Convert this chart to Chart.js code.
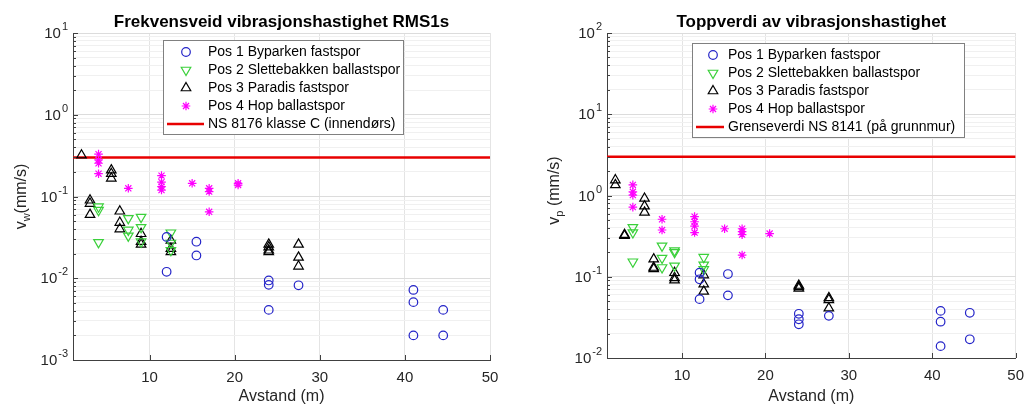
<!DOCTYPE html>
<html>
<head>
<meta charset="utf-8">
<script src="https://cdn.jsdelivr.net/npm/chart.js@4.4.1/dist/chart.umd.min.js"></script>
<style>
  html, body { margin: 0; padding: 0; background: #fff; }
  #wrap { position: relative; width: 1033px; height: 406px; }
  canvas { position: absolute; top: 0; }
  #left { left: 0; }
  #right { left: 516px; }
</style>
</head>
<body>
<div id="wrap">
  <canvas id="left" width="516" height="406"></canvas>
  <canvas id="right" width="517" height="406"></canvas>
</div>
<script>
// --- Data: frekvensveid RMS1s (left) ---
const rmsPos1X = [12, 12, 15.5, 15.5, 24, 24, 24, 27.5, 41, 41, 41, 44.5, 44.5];
const rmsPos1Y = [0.032, 0.012, 0.028, 0.019, 0.0094, 0.0083, 0.0041, 0.0082, 0.0072, 0.0051, 0.002, 0.0041, 0.002];
const rmsPos2X = [4, 4, 4, 7.5, 7.5, 7.5, 9, 9, 9, 12.5, 12.5, 12.5];
const rmsPos2Y = [0.075, 0.068, 0.0275, 0.054, 0.039, 0.033, 0.056, 0.042, 0.028, 0.036, 0.027, 0.022];
const rmsPos3X = [2, 3, 3, 3, 5.5, 5.5, 5.5, 6.5, 6.5, 6.5, 9, 9, 9, 12.5, 12.5, 12.5, 24, 24, 24, 24, 27.5, 27.5, 27.5];
const rmsPos3Y = [0.32, 0.09, 0.082, 0.06, 0.21, 0.19, 0.167, 0.066, 0.048, 0.04, 0.035, 0.028, 0.026, 0.029, 0.023, 0.021, 0.026, 0.024, 0.022, 0.021, 0.026, 0.018, 0.014];
const rmsPos4X = [4, 4, 4, 4, 7.5, 11.4, 11.4, 11.4, 11.4, 15, 17, 17, 17, 20.4, 20.4];
const rmsPos4Y = [0.33, 0.28, 0.255, 0.19, 0.126, 0.18, 0.15, 0.132, 0.12, 0.145, 0.126, 0.115, 0.065, 0.145, 0.138];
const rmsLimit = 0.3;

// --- Data: toppverdi (right) ---
const peakPos1X = [12.1, 12.1, 12.1, 15.5, 15.5, 24, 24, 24, 27.6, 41, 41, 41, 44.5, 44.5];
const peakPos1Y = [0.112, 0.093, 0.053, 0.108, 0.059, 0.035, 0.03, 0.026, 0.033, 0.038, 0.028, 0.014, 0.036, 0.017];
const peakPos2X = [4.1, 4.1, 4.1, 7.6, 7.6, 7.6, 9.1, 9.1, 9.1, 12.6, 12.6, 12.6];
const peakPos2Y = [0.405, 0.35, 0.153, 0.24, 0.17, 0.13, 0.21, 0.2, 0.136, 0.174, 0.14, 0.123];
const peakPos3X = [2, 2, 3.1, 3.1, 5.5, 5.5, 5.5, 6.6, 6.6, 6.6, 9.1, 9.1, 9.1, 12.6, 12.6, 12.6, 24, 24, 24, 27.6, 27.6, 27.6];
const peakPos3Y = [1.55, 1.35, 0.33, 0.32, 0.92, 0.74, 0.62, 0.165, 0.13, 0.125, 0.112, 0.097, 0.091, 0.105, 0.081, 0.066, 0.078, 0.075, 0.072, 0.055, 0.052, 0.041];
const peakPos4X = [4.1, 4.1, 4.1, 4.1, 7.6, 7.6, 11.5, 11.5, 11.5, 11.5, 15.1, 17.2, 17.2, 17.2, 17.2, 20.5];
const peakPos4Y = [1.35, 1.11, 1.01, 0.72, 0.51, 0.376, 0.55, 0.475, 0.42, 0.35, 0.39, 0.39, 0.36, 0.33, 0.185, 0.34];
const peakLimit = 3;

// --- Axes / labels ---
const xMin = 1;
const xMax = 50;
const xTicks = [10, 20, 30, 40, 50];
const seriesLabels = ['Pos 1 Byparken fastspor', 'Pos 2 Slettebakken ballastspor', 'Pos 3 Paradis fastspor', 'Pos 4 Hop ballastspor'];

const FONT = '"Liberation Sans", Arial, sans-serif';
Chart.defaults.font.family = FONT;

const seriesStyles = [
  { color: '#2424c8', pointStyle: 'circle', radius: 4.3, rotation: 0 },
  { color: '#3ad03a', pointStyle: 'triangle', radius: 5.5, rotation: 180 },
  { color: '#000000', pointStyle: 'triangle', radius: 5.5, rotation: 0 },
  { color: '#ff00ff', pointStyle: 'star', radius: 4.3, rotation: 0 },
];

function toPoints(xs, ys) {
  return xs.map((x, i) => ({ x, y: ys[i] }));
}

function isDecade(v) {
  const l = Math.log10(v);
  return Math.abs(l - Math.round(l)) < 1e-9;
}

function markerPoint(ctx, st, x, y) {
  ctx.strokeStyle = st.color;
  ctx.fillStyle = 'rgba(0,0,0,0)';
  ctx.lineWidth = 1.2;
  Chart.helpers.drawPoint(ctx, { pointStyle: st.pointStyle, rotation: st.rotation, radius: st.radius, borderWidth: 1.2 }, x, y);
}

// draws titles, log tick labels, inward ticks and the boxed legend
const decor = {
  id: 'decor',
  afterDraw(chart, args, o) {
    const ctx = chart.ctx;
    const a = chart.chartArea;
    const ys = chart.scales.y;
    const xs = chart.scales.x;
    const cx = (a.left + a.right) / 2;
    const cy = (a.top + a.bottom) / 2;
    ctx.save();

    // inward tick marks
    ctx.strokeStyle = '#404040';
    ctx.lineWidth = 1;
    ctx.beginPath();
    ys.ticks.forEach(t => {
      const py = Math.round(ys.getPixelForValue(t.value)) + 0.5;
      const len = isDecade(t.value) ? 5 : 3;
      ctx.moveTo(a.left, py);
      ctx.lineTo(a.left + len, py);
    });
    xTicks.forEach(v => {
      const px = Math.round(xs.getPixelForValue(v)) + 0.5;
      ctx.moveTo(px, a.bottom);
      ctx.lineTo(px, a.bottom - 5);
    });
    ctx.stroke();

    // y tick labels 10^n
    ctx.fillStyle = '#262626';
    ctx.textBaseline = 'middle';
    ctx.textAlign = 'left';
    ys.ticks.forEach(t => {
      if (!isDecade(t.value)) return;
      const e = String(Math.round(Math.log10(t.value)));
      const py = ys.getPixelForValue(t.value);
      ctx.font = '11px ' + FONT;
      const ew = ctx.measureText(e).width;
      ctx.font = '15px ' + FONT;
      const bw = ctx.measureText('10').width;
      const right = a.left - 5;
      ctx.fillText('10', right - ew - bw - 1, py + 1);
      ctx.font = '11px ' + FONT;
      ctx.fillText(e, right - ew, py - 6);
    });

    // title and axis labels
    ctx.fillStyle = '#000';
    ctx.textAlign = 'center';
    ctx.font = 'bold 17px ' + FONT;
    ctx.fillText(o.title, cx, 22);
    ctx.fillStyle = '#262626';
    ctx.font = '16px ' + FONT;
    ctx.fillText('Avstand (m)', cx, 397);

    ctx.save();
    ctx.translate(o.yLabelX, cy + o.yLabelShift);
    ctx.rotate(-Math.PI / 2);
    ctx.font = '16px ' + FONT;
    const w1 = ctx.measureText('v').width;
    const w3 = ctx.measureText(o.yRest).width;
    ctx.font = '11px ' + FONT;
    const w2 = ctx.measureText(o.ySub).width;
    let sx = -(w1 + w2 + w3) / 2;
    ctx.textAlign = 'left';
    ctx.font = '16px ' + FONT;
    ctx.fillText('v', sx, 0);
    ctx.font = '11px ' + FONT;
    ctx.fillText(o.ySub, sx + w1, 5);
    ctx.font = '16px ' + FONT;
    ctx.fillText(o.yRest, sx + w1 + w2, 0);
    ctx.restore();

    // legend
    const L = o.legend;
    ctx.fillStyle = '#fff';
    ctx.fillRect(L.x, L.y, L.w, L.h);
    ctx.strokeStyle = '#808080';
    ctx.lineWidth = 1;
    ctx.strokeRect(L.x + 0.5, L.y + 0.5, L.w, L.h);
    ctx.font = '14px ' + FONT;
    ctx.textAlign = 'left';
    seriesStyles.forEach((st, i) => {
      const ry = L.y + L.row0 + i * L.rowH;
      markerPoint(ctx, st, L.marker, ry);
      ctx.fillStyle = '#000';
      ctx.fillText(seriesLabels[i], L.text, ry);
    });
    const ry = L.y + L.row0 + 4 * L.rowH;
    ctx.strokeStyle = '#e80000';
    ctx.lineWidth = 2.5;
    ctx.beginPath();
    ctx.moveTo(L.line0, ry);
    ctx.lineTo(L.line1, ry);
    ctx.stroke();
    ctx.fillStyle = '#000';
    ctx.fillText(o.limitLabel, L.text, ry);

    ctx.restore();
  }
};

function makeChart(id, seriesX, seriesY, limit, yMin, yMax, box, o) {
  const datasets = seriesStyles.map((st, i) => ({
    label: seriesLabels[i],
    data: toPoints(seriesX[i], seriesY[i]),
    borderColor: st.color,
    backgroundColor: 'rgba(0,0,0,0)',
    pointStyle: st.pointStyle,
    pointRotation: st.rotation,
    pointRadius: st.radius,
    pointBorderWidth: 1.2,
    showLine: false,
  }));
  datasets.push({
    label: o.limitLabel,
    data: [{ x: xMin, y: limit }, { x: xMax, y: limit }],
    showLine: true,
    borderColor: '#e80000',
    borderWidth: 2.5,
    pointRadius: 0,
  });

  return new Chart(document.getElementById(id), {
    type: 'scatter',
    data: { datasets },
    options: {
      responsive: false,
      animation: false,
      layout: { padding: { left: 0, right: box.padRight, top: box.top, bottom: 0 } },
      plugins: {
        legend: { display: false },
        title: { display: false },
        tooltip: { enabled: false },
        decor: o,
      },
      scales: {
        x: {
          type: 'linear',
          min: xMin,
          max: xMax,
          afterBuildTicks: s => { s.ticks = xTicks.map(v => ({ value: v })); },
          afterFit: s => { s.height = box.xHeight; },
          grid: { color: '#e4e4e4', drawTicks: false },
          border: { color: '#404040' },
          ticks: { padding: 9, color: '#262626', font: { size: 15 } },
        },
        y: {
          type: 'logarithmic',
          min: yMin,
          max: yMax,
          afterBuildTicks: s => {
            const t = [];
            for (let e = Math.round(Math.log10(yMin)); e < Math.round(Math.log10(yMax)); e++) {
              for (let m = 1; m < 10; m++) t.push({ value: m * Math.pow(10, e) });
            }
            t.push({ value: yMax });
            s.ticks = t;
          },
          afterFit: s => { s.width = box.yWidth; },
          grid: {
            drawTicks: false,
            color: c => (c.tick && isDecade(c.tick.value)) ? '#dcdcdc' : '#f0f0f0',
          },
          border: { color: '#404040' },
          ticks: { display: false },
        },
      },
    },
    plugins: [decor],
  });
}

makeChart('left',
  [rmsPos1X, rmsPos2X, rmsPos3X, rmsPos4X],
  [rmsPos1Y, rmsPos2Y, rmsPos3Y, rmsPos4Y],
  rmsLimit, 0.001, 10,
  { padRight: 26, top: 33, xHeight: 46, yWidth: 73 },
  {
    title: 'Frekvensveid vibrasjonshastighet RMS1s',
    ySub: 'w', yRest: '(mm/s)', yLabelX: 22, yLabelShift: 0,
    limitLabel: 'NS 8176 klasse C (innendørs)',
    legend: { x: 163, y: 40, w: 240, h: 94, row0: 12, rowH: 18, marker: 186, text: 208, line0: 167, line1: 204 },
  });

makeChart('right',
  [peakPos1X, peakPos2X, peakPos3X, peakPos4X],
  [peakPos1Y, peakPos2Y, peakPos3Y, peakPos4Y],
  peakLimit, 0.01, 100,
  { padRight: 9, top: 33, xHeight: 48, yWidth: 91 },
  {
    title: 'Toppverdi av vibrasjonshastighet',
    ySub: 'p', yRest: ' (mm/s)', yLabelX: 39, yLabelShift: -5,
    limitLabel: 'Grenseverdi NS 8141 (på grunnmur)',
    legend: { x: 176, y: 43, w: 272, h: 94, row0: 12, rowH: 18, marker: 197, text: 212, line0: 180, line1: 208 },
  });
</script>
</body>
</html>
